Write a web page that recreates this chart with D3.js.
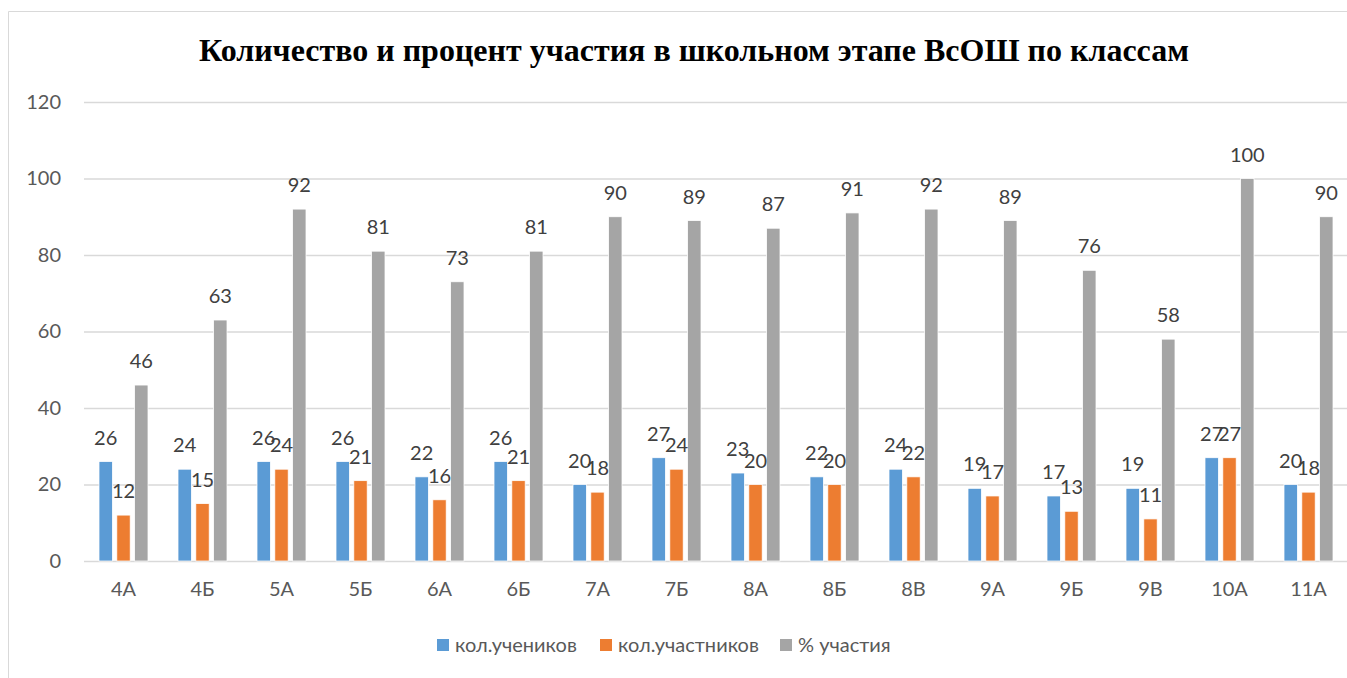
<!DOCTYPE html>
<html>
<head>
<meta charset="utf-8">
<script src="https://cdnjs.cloudflare.com/ajax/libs/d3/7.8.5/d3.min.js"></script>
<style>
  body { margin: 0; background: #fff; }
  svg { display: block; }
</style>
</head>
<body>
<script>
var classes = ["4А", "4Б", "5А", "5Б", "6А", "6Б", "7А", "7Б", "8А", "8Б", "8В", "9А", "9Б", "9В", "10А", "11А"];
var students = [26, 24, 26, 26, 22, 26, 20, 27, 23, 22, 24, 19, 17, 19, 27, 20];
var participants = [12, 15, 24, 21, 16, 21, 18, 24, 20, 20, 22, 17, 13, 11, 27, 18];
var percent = [46, 63, 92, 81, 73, 81, 90, 89, 87, 91, 92, 89, 76, 58, 100, 90];
var seriesNames = ["кол.учеников", "кол.участников", "% участия"];
var colors = ["#5B9BD5", "#ED7D31", "#A5A5A5"];
var yTicks = [0, 20, 40, 60, 80, 100, 120];

var width = 1347, height = 678;
var plot = {left: 84, right: 1348, top: 102, bottom: 561};
var font = "Lato, 'Open Sans', sans-serif";

var svg = d3.select("body").append("svg")
  .attr("width", width)
  .attr("height", height);

// chart frame
svg.append("path")
  .attr("d", "M8.5," + height + "V11.5H" + width)
  .attr("fill", "none")
  .attr("stroke", "#D9D9D9")
  .attr("stroke-width", 1);

var x0 = d3.scaleBand()
  .domain(classes)
  .range([plot.left, plot.right])
  .paddingInner(0.38)
  .paddingOuter(0.19);

var x1 = d3.scaleBand()
  .domain([0, 1, 2])
  .range([0, x0.bandwidth()])
  .paddingInner(0.25);

var y = d3.scaleLinear()
  .domain([0, 120])
  .range([plot.bottom, plot.top]);

// gridlines and y labels
var yAxis = d3.axisLeft(y)
  .tickValues(yTicks)
  .tickSize(-(plot.right - plot.left))
  .tickPadding(23);

var gy = svg.append("g")
  .attr("transform", "translate(" + plot.left + ",0)")
  .call(yAxis);
gy.select(".domain").remove();
gy.selectAll(".tick line").attr("stroke", "#D9D9D9").attr("stroke-width", 1.3);
gy.selectAll(".tick text")
  .attr("fill", "#595959")
  .style("font-family", font)
  .style("font-size", "20px");

// x labels
var xAxis = d3.axisBottom(x0).tickSize(0).tickPadding(21);
var gx = svg.append("g")
  .attr("transform", "translate(0," + plot.bottom + ")")
  .call(xAxis);
gx.select(".domain").remove();
gx.selectAll(".tick text")
  .attr("fill", "#595959")
  .style("font-family", font)
  .style("font-size", "20px");

var rows = classes.map(function (c, i) {
  return {cls: c, values: [students[i], participants[i], percent[i]]};
});

var groups = svg.selectAll(".grp")
  .data(rows)
  .enter().append("g")
  .attr("class", "grp")
  .attr("transform", function (d) { return "translate(" + x0(d.cls) + ",0)"; });

groups.selectAll("rect")
  .data(function (d) { return d.values.map(function (v, k) { return {k: k, v: v}; }); })
  .enter().append("rect")
  .attr("x", function (d) { return x1(d.k); })
  .attr("y", function (d) { return y(d.v); })
  .attr("width", x1.bandwidth())
  .attr("height", function (d) { return y(0) - y(d.v); })
  .attr("fill", function (d) { return colors[d.k]; })
  .attr("stroke", "#fff")
  .attr("stroke-width", 0.75);

groups.selectAll("text.lbl")
  .data(function (d) { return d.values.map(function (v, k) { return {k: k, v: v}; }); })
  .enter().append("text")
  .attr("class", "lbl")
  .attr("x", function (d) { return x1(d.k) + x1.bandwidth() / 2; })
  .attr("y", function (d) { return y(d.v) - 17; })
  .attr("text-anchor", "middle")
  .attr("fill", "#404040")
  .style("font-family", font)
  .style("font-size", "20px")
  .text(function (d) { return d.v; });

// title
svg.append("text")
  .attr("x", 694)
  .attr("y", 61)
  .attr("text-anchor", "middle")
  .attr("fill", "#000")
  .style("font-family", "'Liberation Serif', 'Times New Roman', serif")
  .style("font-weight", "bold")
  .style("font-size", "32px")
  .text("Количество и процент участия в школьном этапе ВсОШ по классам");

// legend
var legendX = [437, 600, 780];
var legend = svg.selectAll(".leg")
  .data(seriesNames)
  .enter().append("g")
  .attr("class", "leg")
  .attr("transform", function (d, i) { return "translate(" + legendX[i] + ",639)"; });

legend.append("rect")
  .attr("width", 12)
  .attr("height", 12)
  .attr("fill", function (d, i) { return colors[i]; });

legend.append("text")
  .attr("x", 18)
  .attr("y", 13)
  .attr("fill", "#595959")
  .style("font-family", font)
  .style("font-size", "20px")
  .text(function (d) { return d; });
</script>
</body>
</html>
